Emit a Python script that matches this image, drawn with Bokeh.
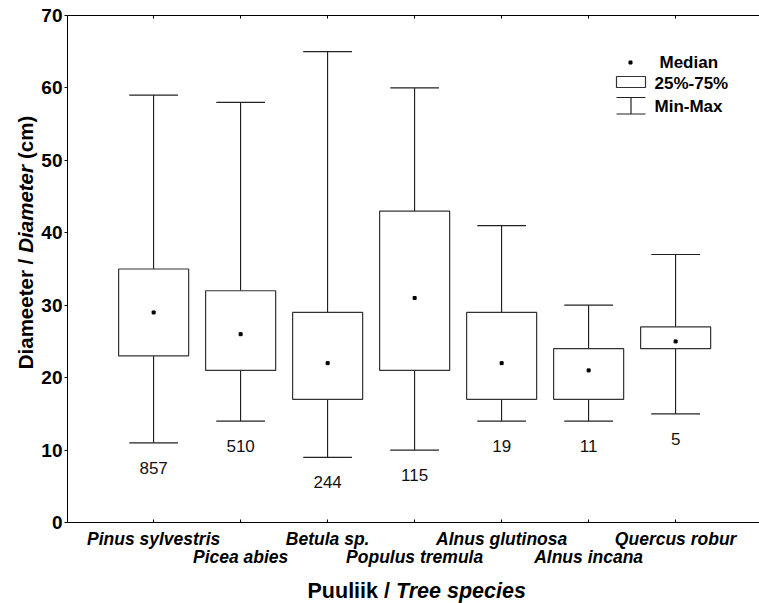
import math
from bokeh.plotting import figure
from bokeh.models import Range1d, LinearAxis, FixedTicker, Label
from bokeh.embed import file_html
from bokeh.resources import INLINE

# ---------------- data ----------------
species = ["Pinus sylvestris", "Picea abies", "Betula sp.", "Populus tremula",
           "Alnus glutinosa", "Alnus incana", "Quercus robur"]
minimum = [11, 14, 9, 10, 14, 14, 15]
q1 = [23, 21, 17, 21, 17, 17, 24]
median = [29, 26, 22, 31, 22, 21, 25]
q3 = [35, 32, 29, 43, 29, 24, 27]
maximum = [59, 58, 65, 60, 41, 30, 37]
counts = [857, 510, 244, 115, 19, 11, 5]
y_ticks = [0, 10, 20, 30, 40, 50, 60, 70]

# ---------------- geometry helpers (canvas px -> data) ----------------
FONT = "Liberation Sans"
W, H = 759, 603
FR_L, FR_T, FR_B = 67, 15, 522
X0 = 0.01
PPX = 87.0
PPY = (FR_B - FR_T) / 70.0

def px_x(px):
    return X0 + (px - FR_L) / PPX

def px_y(py):
    return (FR_B - py) / PPY

p = figure(width=W, height=H, output_backend="svg", toolbar_location=None,
           x_range=Range1d(px_x(0), px_x(W)), y_range=Range1d(px_y(H), px_y(0)),
           min_border_left=0, min_border_right=0, min_border_top=0, min_border_bottom=0,
           x_axis_type=None, y_axis_type=None)
p.outline_line_color = None
p.xgrid.visible = False
p.ygrid.visible = False
p.background_fill_color = "white"
p.border_fill_color = "white"

xs = list(range(1, len(species) + 1))

# axes (placed at fixed locations inside the canvas)
yax = LinearAxis(ticker=FixedTicker(ticks=y_ticks), fixed_location=px_x(FR_L), bounds=(0, 70))
yax.major_tick_out = 3
yax.major_tick_in = 0
yax.minor_tick_line_color = None
yax.major_label_text_font = FONT
yax.major_label_text_font_style = "bold"
yax.major_label_text_font_size = "19px"
yax.major_label_text_color = "black"
yax.major_label_standoff = 2
yax.axis_line_color = "black"
p.add_layout(yax, "left")

for loc, yloc in (("below", 0), ("above", 70)):
    ax = LinearAxis(ticker=FixedTicker(ticks=xs), fixed_location=yloc,
                    bounds=(px_x(FR_L), px_x(W)))
    ax.major_tick_in = 3
    ax.major_tick_out = 0
    ax.minor_tick_line_color = None
    ax.major_label_text_color = None
    ax.axis_line_color = "black"
    p.add_layout(ax, loc)

# whiskers
p.segment(x0=xs, y0=q3, x1=xs, y1=maximum, line_color="black", line_width=1)
p.segment(x0=xs, y0=q1, x1=xs, y1=minimum, line_color="black", line_width=1)
cap = 0.28
p.segment(x0=[x - cap for x in xs], y0=maximum, x1=[x + cap for x in xs], y1=maximum,
          line_color="#222222", line_width=1.2)
p.segment(x0=[x - cap for x in xs], y0=minimum, x1=[x + cap for x in xs], y1=minimum,
          line_color="#222222", line_width=1.2)
# boxes
p.vbar(x=xs, width=0.805, bottom=q1, top=q3, fill_color="white",
       line_color="#333333", line_width=1.2)
# medians
p.scatter(x=xs, y=median, marker="square", size=3, fill_color="black", line_color="black")

# counts
p.text(x=xs, y=minimum, text=[str(c) for c in counts], y_offset=25,
       text_align="center", text_baseline="middle", text_font_size="17px",
       text_color="#111111", text_font={"value": FONT})

# category labels (staggered)
for i, name in enumerate(species):
    row_py = 538 if i % 2 == 0 else 556
    p.add_layout(Label(x=xs[i], y=px_y(row_py), text=name, text_align="center",
                       text_baseline="middle", text_font=FONT,
                       text_font_style="bold italic", text_font_size="17.5px",
                       text_color="black"))

# x title
XS = 21.5
jx = px_x(307 + 3.835 * XS)
p.add_layout(Label(x=jx, y=px_y(590), text="Puuliik /", text_align="right",
                   text_baseline="middle", text_font=FONT, text_font_style="bold",
                   text_font_size=f"{XS}px", text_color="black"))
p.add_layout(Label(x=jx + 6 / PPX, y=px_y(590), text="Tree species", text_align="left",
                   text_baseline="middle", text_font=FONT, text_font_style="bold italic",
                   text_font_size=f"{XS}px", text_color="black"))

# y title (rotated, mixed style), drawn bottom-to-top
TS = 20.5
gap = 6
w1, w2, w3 = 5.391 * TS, 4.279 * TS, 2.111 * TS
total = w1 + w2 + w3 + 2 * gap
start = 242 + total / 2
lx = px_x(25)
for txt, style, pos in (("Diameeter /", "bold", start),
                        ("Diameter", "bold italic", start - w1 - gap),
                        ("(cm)", "bold", start - w1 - w2 - 2 * gap)):
    p.add_layout(Label(x=lx, y=px_y(pos), text=txt, angle=math.pi / 2,
                       text_align="left", text_baseline="middle", text_font=FONT,
                       text_font_style=style, text_font_size=f"{TS}px",
                       text_color="black"))

# legend
p.scatter(x=[px_x(630)], y=[px_y(62)], marker="square", size=3,
          fill_color="black", line_color="black")
p.quad(left=[px_x(616)], right=[px_x(645)], top=[px_y(76)], bottom=[px_y(87)],
       fill_color="white", line_color="#333333", line_width=1.2)
p.segment(x0=[px_x(616), px_x(616), px_x(630.5)], y0=[px_y(97), px_y(113.5), px_y(97)],
          x1=[px_x(645), px_x(645), px_x(630.5)], y1=[px_y(97), px_y(113.5), px_y(113.5)],
          line_color="#222222", line_width=1.2)
for txt, tx, ty in (("Median", 659, 62), ("25%-75%", 654, 83), ("Min-Max", 654, 106)):
    p.add_layout(Label(x=px_x(tx), y=px_y(ty), text=txt, text_align="left",
                       text_baseline="middle", text_font=FONT, text_font_style="bold",
                       text_font_size="17px", text_color="black"))

open("out.html", "w").write(file_html(p, INLINE))
